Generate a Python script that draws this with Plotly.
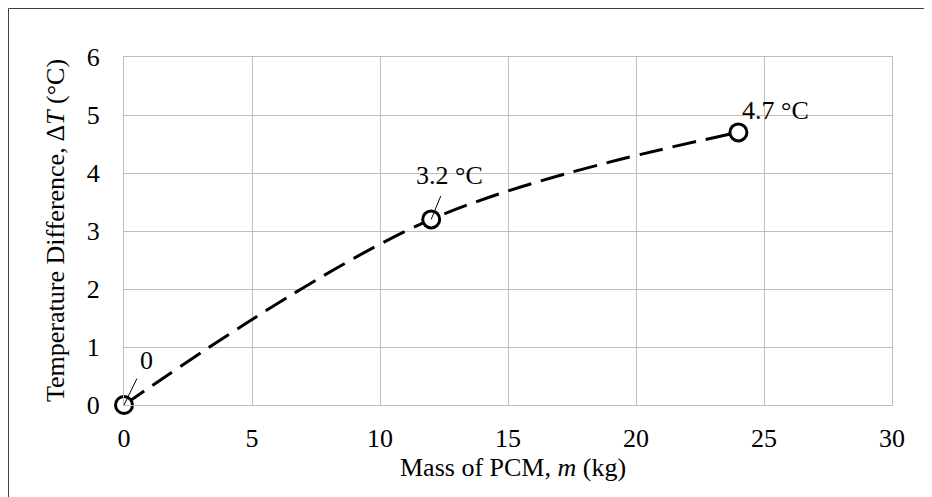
import plotly.graph_objects as go

mass_kg = [0, 12, 24]
delta_t = [0, 3.2, 4.7]
point_labels = ["0", "3.2 °C", "4.7 °C"]
x_ticks = [0, 5, 10, 15, 20, 25, 30]
y_ticks = [0, 1, 2, 3, 4, 5, 6]

FONT = "Liberation Serif, Times New Roman, serif"
FS = 26
GRID = "#BFBFBF"

# page body has an 8px margin; plot area is placed so it lands at 123..891 x 57..405
ML, MT, PW, PH = 116, 49, 768, 348
W, H = 924, 489

fig = go.Figure()
fig.add_trace(go.Scatter(
    x=mass_kg, y=delta_t, mode="lines",
    line=dict(color="black", width=3, dash="24px,10px", shape="spline", smoothing=1),
    hoverinfo="skip", showlegend=False,
))
fig.add_trace(go.Scatter(
    x=mass_kg, y=delta_t, mode="markers",
    marker=dict(symbol="circle", size=17, color="white", line=dict(color="black", width=3)),
    showlegend=False, cliponaxis=False,
))

# data labels
fig.add_annotation(x=mass_kg[0], y=delta_t[0], text=point_labels[0], showarrow=True,
                   arrowhead=0, arrowwidth=1, arrowcolor="black", ax=22, ay=-45,
                   standoff=0, startstandoff=3, font=dict(family=FONT, size=FS, color="black"))
fig.add_annotation(x=mass_kg[1], y=delta_t[1], text=point_labels[1], showarrow=True,
                   arrowhead=0, arrowwidth=1, arrowcolor="black", ax=18, ay=-44,
                   standoff=0, startstandoff=5, font=dict(family=FONT, size=FS, color="black"))
fig.add_annotation(x=mass_kg[2], y=delta_t[2], text=point_labels[2], showarrow=False,
                   xshift=37, yshift=22, font=dict(family=FONT, size=FS, color="black"))

# axis titles
fig.add_annotation(xref="paper", yref="paper", x=0.5, y=0, xshift=5, yshift=-62,
                   text="Mass of PCM, <i>m</i> (kg)", showarrow=False,
                   xanchor="center", yanchor="middle",
                   font=dict(family=FONT, size=FS, color="black"))
fig.add_annotation(xref="paper", yref="paper", x=0, y=0.5, xshift=-69,
                   text="Temperature Difference, ∆<i>T</i> (°C)", showarrow=False,
                   textangle=-90, xanchor="center", yanchor="middle",
                   font=dict(family=FONT, size=FS, color="black"))

# outer chart border: only the top and left edges fall inside the visible window
bx0 = (0.5 - ML) / PW
by1 = 1 + (MT - 0.5) / PH
fig.add_shape(type="line", xref="paper", yref="paper", x0=bx0, x1=1.3, y0=by1, y1=by1,
              line=dict(color="#404040", width=1), layer="below")
fig.add_shape(type="line", xref="paper", yref="paper", x0=bx0, x1=bx0, y0=-0.5, y1=by1,
              line=dict(color="#404040", width=1), layer="below")

fig.update_xaxes(range=[0, 30], tickvals=x_ticks, showgrid=True, gridcolor=GRID, gridwidth=1,
                 zeroline=False, showline=True, linecolor=GRID, mirror=True,
                 ticks="", ticklabelstandoff=10,
                 tickfont=dict(family=FONT, size=FS, color="black"))
fig.update_yaxes(range=[0, 6], tickvals=y_ticks, showgrid=True, gridcolor=GRID, gridwidth=1,
                 zeroline=False, showline=True, linecolor=GRID, mirror=True,
                 ticks="", ticklabelstandoff=18,
                 tickfont=dict(family=FONT, size=FS, color="black"))

fig.update_layout(
    width=W, height=H,
    margin=dict(l=ML, r=W - ML - PW, t=MT, b=H - MT - PH),
    paper_bgcolor="white", plot_bgcolor="white",
    font=dict(family=FONT, size=FS, color="black"),
    showlegend=False,
)

fig.write_html("out.html")
